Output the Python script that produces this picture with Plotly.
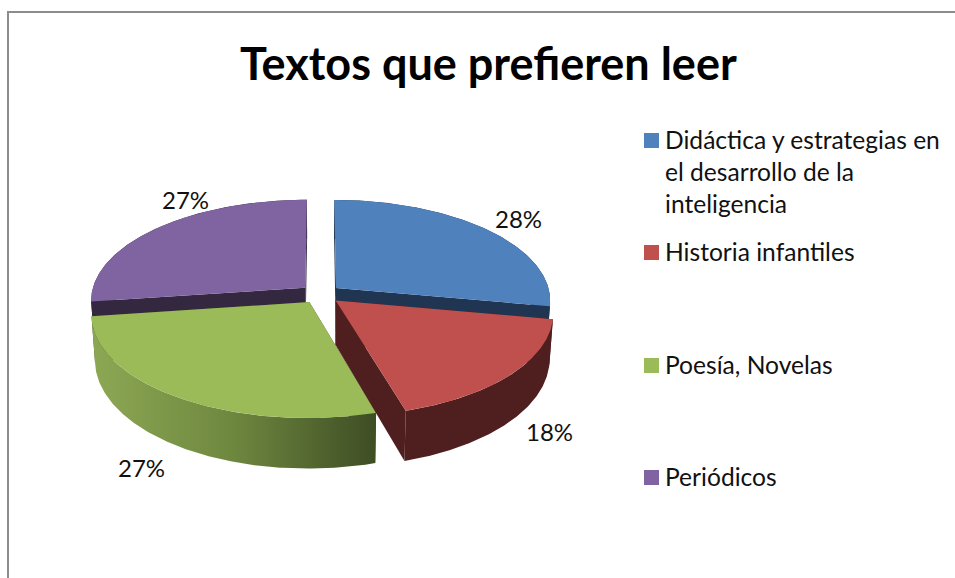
import numpy as np
import plotly.graph_objects as go


# ==========================================================
# DATA
# ==========================================================

CATEGORIES = [
    "Didáctica y estrategias en<br>el desarrollo de la<br>inteligencia",
    "Historia infantiles",
    "Poesía, Novelas",
    "Periódicos",
]
VALUES = [27.9, 17.6, 27.3, 27.2]
TITLE = "Textos que prefieren leer"

TOP_COLORS = ["#4F81BD", "#C0504D", "#9BBB59", "#8064A2"]
CUT_COLORS = ["#1F3552", "#4F1F20", "#3E4D24", "#342840"]

LABEL_X = [518, 549, 141, 185]
LABEL_Y = [218, 431, 467, 199]
LEGEND_Y = [140.5, 252.5, 365.5, 477.5]

# ==========================================================
# PIE GEOMETRY
# ==========================================================

CX, CY = 320.5, 294
RX, RY = 214, 100
PERSPECTIVE = 0.12
PULL = 0.095
DEPTH = 44
BOTTOM_SCALE = 0.985
FONT = "Lato, Carlito, sans-serif"
BORDER = "#8C8C8C"


def project(theta, radius, mid, bottom=False):
    x3 = radius * np.sin(theta) + PULL * np.sin(mid)
    z3 = radius * np.cos(theta) + PULL * np.cos(mid)
    f = 1 / (1 + PERSPECTIVE * z3)
    x = RX * x3 * f
    y = CY - RY * z3 * f
    if bottom:
        x = x * BOTTOM_SCALE
        y = y + DEPTH * f
    return CX + x, y


def polygon(fig, x, y, color=None, gradient=None):
    trace = go.Scatter(
        x=x,
        y=y,
        mode="lines",
        line=dict(width=0),
        fill="toself",
        hoverinfo="skip",
        showlegend=False,
    )
    if gradient:
        trace.fillgradient = dict(type="horizontal", colorscale=gradient)
    else:
        trace.fillcolor = color
    fig.add_trace(trace)


def cut_face(fig, theta, mid, color):
    x0, y0 = project(np.array([0.0, theta]), np.array([0.0, 1.0]), mid)
    x1, y1 = project(np.array([theta, 0.0]), np.array([1.0, 0.0]), mid, True)
    polygon(fig, np.r_[x0, x1], np.r_[y0, y1], color)


def draw_slice(fig, start, end, top, cut, gradient=None):
    mid = (start + end) / 2
    arc = np.linspace(start, end, 160)

    cut_face(fig, start, mid, cut)
    cut_face(fig, end, mid, cut)

    xt, yt = project(arc, 1.0, mid)
    xb, yb = project(arc, 1.0, mid, True)
    polygon(fig, np.r_[xt, xb[::-1]], np.r_[yt, yb[::-1]], cut, gradient)

    xa, ya = project(0.0, 0.0, mid)
    polygon(fig, np.r_[xa, xt], np.r_[ya, yt], top)


fig = go.Figure()

fractions = np.array(VALUES) / sum(VALUES)
edges = np.r_[0, np.cumsum(fractions)] * 2 * np.pi

# back slices first, the front ones cover their cut faces
for i in [3, 0, 2, 1]:
    gradient = None
    if i == 2:
        gradient = [[0, "#8DA854"], [0.5, "#6E873F"], [1, "#3E4D24"]]
    draw_slice(fig, edges[i], edges[i + 1], TOP_COLORS[i], CUT_COLORS[i], gradient)

# ==========================================================
# LEGEND + LABELS
# ==========================================================

fig.add_trace(
    go.Scatter(
        x=[651.5] * len(LEGEND_Y),
        y=LEGEND_Y,
        mode="markers",
        marker=dict(symbol="square", size=15, color=TOP_COLORS, line_width=0),
        hoverinfo="skip",
        showlegend=False,
    )
)

for name, y in zip(CATEGORIES, LEGEND_Y):
    for n, line in enumerate(name.split("<br>")):
        fig.add_annotation(
            x=663, y=y - 1 + n * 32, text=line,
            xanchor="left", yanchor="middle", showarrow=False,
            font=dict(size=24.6, color="#111111"),
        )

for value, x, y in zip(VALUES, LABEL_X, LABEL_Y):
    fig.add_annotation(
        x=x, y=y, text=f"{round(value)}%",
        xanchor="center", yanchor="middle", showarrow=False,
        font=dict(size=24, color="#111111"),
    )

fig.add_annotation(
    x=488, y=63, text=f"<b>{TITLE}</b>",
    xanchor="center", yanchor="middle", showarrow=False,
    font=dict(size=45, color="#000000"),
)

fig.add_shape(
    type="rect", x0=8, y0=12, x1=1100, y1=800,
    line=dict(color=BORDER, width=2), layer="below",
)

fig.update_layout(
    width=955,
    height=578,
    margin=dict(l=0, r=0, t=0, b=0),
    paper_bgcolor="white",
    plot_bgcolor="white",
    font=dict(family=FONT),
    showlegend=False,
    xaxis=dict(range=[0, 955], visible=False, fixedrange=True),
    yaxis=dict(range=[578, 0], visible=False, fixedrange=True),
)

fig.write_html(
    "out.html",
    config=dict(displayModeBar=False),
    post_script="document.body.style.margin = '0';",
)
